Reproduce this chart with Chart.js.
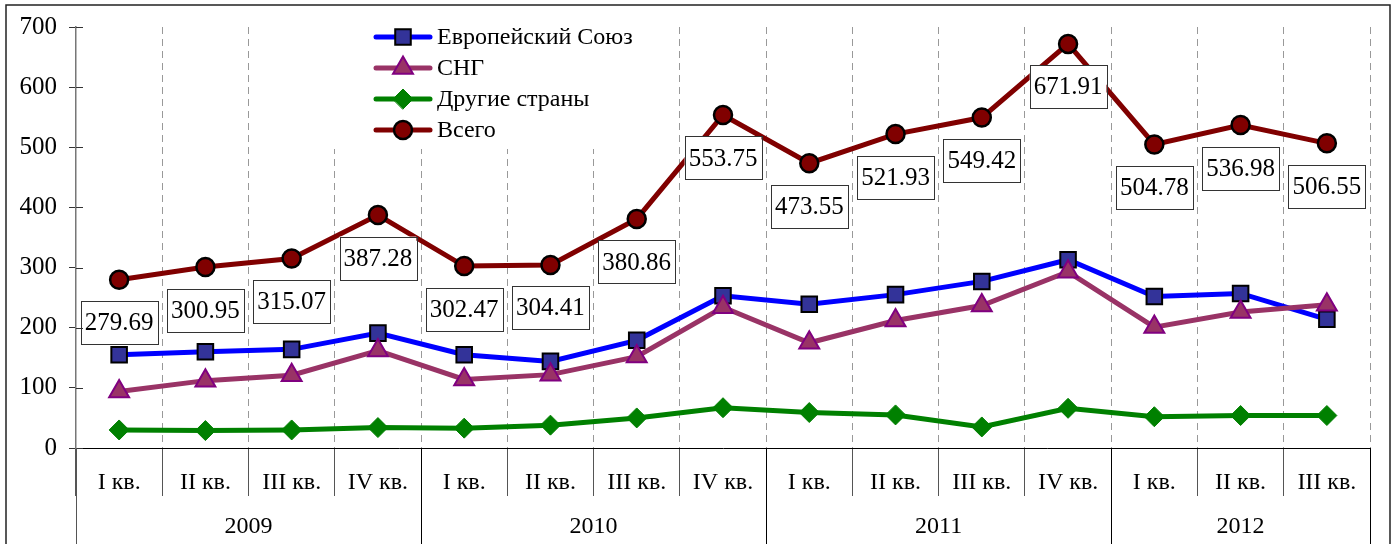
<!DOCTYPE html>
<html>
<head>
<meta charset="utf-8">
<script src="https://cdn.jsdelivr.net/npm/chart.js@4.4.1/dist/chart.umd.min.js"></script>
<style>
html, body { margin: 0; padding: 0; background: #fff; }
</style>
</head>
<body>
<canvas id="chart" width="1393" height="544"></canvas>
<script>
const quarters = ['I кв.', 'II кв.', 'III кв.', 'IV кв.',
                  'I кв.', 'II кв.', 'III кв.', 'IV кв.',
                  'I кв.', 'II кв.', 'III кв.', 'IV кв.',
                  'I кв.', 'II кв.', 'III кв.'];
const years = ['2009', '2010', '2011', '2012'];
const quartersPerYear = [4, 4, 4, 3];

const eu     = [155, 160, 164, 191, 155, 144, 179, 253, 239, 255, 277, 313, 252, 257, 214];
const cis    = [94, 112, 121, 162, 114, 122, 152, 234, 175, 212, 237, 293, 201, 226, 238];
const others = [30, 29, 30, 34, 33, 38, 50, 67, 59, 55, 35, 66, 52, 54, 54];
const total  = [279.69, 300.95, 315.07, 387.28, 302.47, 304.41, 380.86, 553.75,
                473.55, 521.93, 549.42, 671.91, 504.78, 536.98, 506.55];

const seriesNames = ['Европейский Союз', 'СНГ', 'Другие страны', 'Всего'];
const yTicks = [0, 100, 200, 300, 400, 500, 600, 700];

const FONT = '"Liberation Serif", "Times New Roman", serif';
Chart.defaults.font.family = FONT;
Chart.defaults.font.size = 24;
Chart.defaults.color = '#000';

// labels in white boxes under the "Всего" points
const boxLabels = {
    id: 'boxLabels',
    afterDatasetsDraw(chart) {
        const ctx = chart.ctx;
        const meta = chart.getDatasetMeta(3);
        ctx.save();
        ctx.font = '25px ' + FONT;
        ctx.textAlign = 'center';
        ctx.textBaseline = 'middle';
        meta.data.forEach((pt, i) => {
            const txt = total[i].toFixed(2);
            const w = ctx.measureText(txt).width + 8;
            const h = 43;
            const cx = pt.x, cy = pt.y + 43;
            ctx.fillStyle = '#fff';
            ctx.fillRect(cx - w / 2, cy - h / 2, w, h);
            ctx.strokeStyle = '#333';
            ctx.lineWidth = 1;
            ctx.strokeRect(Math.round(cx - w / 2) + 0.5, Math.round(cy - h / 2) + 0.5, Math.round(w), h);
            ctx.fillStyle = '#000';
            ctx.fillText(txt, cx, cy + 1);
        });
        ctx.restore();
    }
};

// legend drawn inside the plot, on a white patch
const innerLegend = {
    id: 'innerLegend',
    beforeDatasetsDraw(chart) {
        const ctx = chart.ctx;
        ctx.save();
        ctx.fillStyle = '#fff';
        ctx.fillRect(328, 14, 322, 135);
        ctx.font = '24px ' + FONT;
        ctx.textBaseline = 'middle';
        chart.data.datasets.forEach((ds, i) => {
            const y = 37 + i * 31;
            ctx.strokeStyle = ds.borderColor;
            ctx.lineWidth = ds.borderWidth;
            ctx.lineCap = 'round';
            ctx.beginPath();
            ctx.moveTo(376, y);
            ctx.lineTo(430, y);
            ctx.stroke();
            ctx.fillStyle = ds.pointBackgroundColor;
            ctx.strokeStyle = ds.pointBorderColor;
            ctx.lineWidth = ds.pointBorderWidth;
            Chart.helpers.drawPoint(ctx, {
                pointStyle: ds.pointStyle, radius: ds.pointRadius,
                borderWidth: ds.pointBorderWidth, rotation: 0
            }, 403, y);
            ctx.fillStyle = '#000';
            ctx.fillText(ds.label, 437, y + 1);
        });
        ctx.restore();
    }
};

// inward y ticks, year row, outer frame
const axisExtras = {
    id: 'axisExtras',
    afterDraw(chart) {
        const ctx = chart.ctx;
        const xs = chart.scales.x, ys = chart.scales.y;
        const area = chart.chartArea;
        ctx.save();
        ctx.strokeStyle = '#333';
        ctx.lineWidth = 1;
        yTicks.forEach(v => {
            const y = Math.round(ys.getPixelForValue(v)) + 0.5;
            ctx.beginPath();
            ctx.moveTo(area.left, y);
            ctx.lineTo(area.left + 7, y);
            ctx.stroke();
        });
        let start = 0;
        ctx.font = '24px ' + FONT;
        ctx.textAlign = 'center';
        ctx.textBaseline = 'middle';
        ctx.fillStyle = '#000';
        const x0 = xs.getPixelForValue(-0.5);
        ctx.strokeStyle = '#555';
        ctx.beginPath();
        ctx.moveTo(Math.round(x0) + 0.5, area.bottom);
        ctx.lineTo(Math.round(x0) + 0.5, 544);
        ctx.stroke();
        ctx.strokeStyle = '#000';
        years.forEach((yr, k) => {
            const end = start + quartersPerYear[k];
            const xa = xs.getPixelForValue(start - 0.5);
            const xb = xs.getPixelForValue(end - 0.5);
            const xl = Math.round(xb) + 0.5;
            ctx.beginPath();
            ctx.moveTo(xl, area.bottom);
            ctx.lineTo(xl, 544);
            ctx.stroke();
            ctx.fillText(yr, (xa + xb) / 2, 527);
            start = end;
        });
        ctx.strokeStyle = '#222';
        ctx.lineWidth = 1.5;
        ctx.strokeRect(6, 5, 1384, 560);
        ctx.restore();
    }
};

const ctx = document.getElementById('chart');
new Chart(ctx, {
    type: 'line',
    data: {
        labels: quarters,
        datasets: [{
            label: seriesNames[0],
            data: eu,
            borderColor: '#0000FF',
            borderWidth: 5,
            pointStyle: 'rect',
            pointRadius: 11,
            pointBackgroundColor: '#333399',
            pointBorderColor: '#000',
            pointBorderWidth: 2,
            order: 4
        }, {
            label: seriesNames[1],
            data: cis,
            borderColor: '#993366',
            borderWidth: 5,
            pointStyle: 'triangle',
            pointRadius: 11.5,
            pointBackgroundColor: '#993366',
            pointBorderColor: '#800080',
            pointBorderWidth: 2,
            order: 3
        }, {
            label: seriesNames[2],
            data: others,
            borderColor: '#008000',
            borderWidth: 5,
            pointStyle: 'rectRot',
            pointRadius: 10,
            pointBackgroundColor: '#008000',
            pointBorderColor: '#008000',
            pointBorderWidth: 1,
            order: 2
        }, {
            label: seriesNames[3],
            data: total,
            borderColor: '#800000',
            borderWidth: 5,
            pointStyle: 'circle',
            pointRadius: 9,
            pointBackgroundColor: '#800000',
            pointBorderColor: '#000',
            pointBorderWidth: 2.5,
            order: 1
        }]
    },
    options: {
        responsive: false,
        animation: false,
        layout: { padding: { left: 0, top: 27, right: 23, bottom: 0 } },
        plugins: {
            legend: { display: false },
            tooltip: { enabled: false }
        },
        scales: {
            x: {
                offset: true,
                afterFit: s => { s.height = 96; },
                grid: {
                    offset: true,
                    color: '#999',
                    lineWidth: 1,
                    tickLength: 48,
                    tickColor: '#555',
                    tickWidth: 1
                },
                border: { color: '#000', width: 1, dash: [7, 5] },
                ticks: { padding: -28, maxRotation: 0, autoSkip: false }
            },
            y: {
                min: 0,
                max: 700,
                afterFit: s => { s.width = 76; },
                afterBuildTicks: s => { s.ticks = yTicks.map(v => ({ value: v })); },
                grid: { drawOnChartArea: false, tickLength: 7, tickColor: '#333' },
                border: { color: '#777', width: 1.5 },
                ticks: { padding: 12, font: { size: 25 } }
            }
        }
    },
    plugins: [innerLegend, boxLabels, axisExtras]
});
</script>
</body>
</html>
